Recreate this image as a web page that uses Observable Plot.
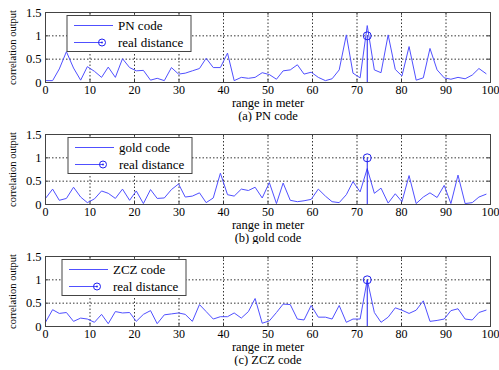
<!DOCTYPE html>
<html><head><meta charset="utf-8">
<script src="https://cdn.jsdelivr.net/npm/d3@7"></script>
<script src="https://cdn.jsdelivr.net/npm/@observablehq/plot@0.6"></script>
<style>
html,body{margin:0;padding:0;background:#fff;}
#chart{width:499px;height:370px;overflow:hidden;background:#fff;}
#chart svg{display:block;}
#chart svg text{font-family:"Liberation Serif", serif !important;}
</style></head><body><div id="chart"></div>
<script>
// range in meter (sample positions)
const rangeM = [0,1.6,3.1,4.7,6.3,7.9,9.4,11,12.6,14.1,15.7,17.3,18.9,20.4,22,23.6,25.1,26.7,28.3,29.9,31.4,33,34.6,36.1,37.7,39.3,40.9,42.4,44,45.6,47.1,48.7,50.3,51.9,53.4,55,56.6,58.1,59.7,61.3,62.9,64.4,66,67.6,69.1,70.7,72.3,73.9,75.4,77,78.6,80.1,81.7,83.3,84.9,86.4,88,89.6,91.1,92.7,94.3,95.9,97.4,99];
const pnCode = [0.04,0.04,0.29,0.66,0.31,0.05,0.34,0.24,0.11,0.33,0.11,0.51,0.32,0.25,0.26,0.05,0.09,0.04,0.32,0.18,0.2,0.25,0.3,0.52,0.32,0.32,0.63,0.04,0.11,0.09,0.11,0.21,0.17,0.07,0.25,0.27,0.38,0.18,0.22,0.11,0.04,0.08,0.27,1.02,0.2,0.1,1.22,0.27,0.21,1.02,0.28,0.14,0.77,0.05,0.1,0.73,0.27,0.1,0.07,0.11,0.08,0.16,0.3,0.19];
const goldCode = [0.13,0.33,0.09,0.13,0.37,0.16,0.04,0.12,0.29,0.24,0.13,0.33,0.09,0.29,0.02,0.32,0.13,0.14,0.32,0.44,0.16,0.18,0.25,0.04,0.14,0.67,0.21,0.18,0.33,0.3,0.37,0.14,0.47,0.02,0.46,0.09,0.06,0.08,0.11,0.33,0.18,0.06,0.04,0.21,0.49,0.27,0.77,0.24,0.35,0.03,0.23,0.06,0.62,0.02,0.16,0.25,0.15,0.41,0.02,0.63,0.02,0.04,0.16,0.22];
const zczCode = [0.09,0.36,0.28,0.3,0.11,0.18,0.16,0.09,0.26,0.06,0.32,0.29,0.3,0.11,0.26,0.34,0.06,0.25,0.27,0.29,0.26,0.11,0.47,0.32,0.16,0.21,0.21,0.29,0.18,0.32,0.6,0.07,0.12,0.3,0.48,0.47,0.16,0.14,0.45,0.2,0.2,0.16,0.45,0.09,0.16,0.16,1.0,0.3,0.09,0.2,0.4,0.35,0.28,0.35,0.55,0.11,0.13,0.16,0.34,0.38,0.16,0.14,0.3,0.35];
const realDistance = 72.3;
const realPeak = 1;
const xTicks = [0,10,20,30,40,50,60,70,80,90,100];
const yTicks = [0,0.5,1,1.5];
const seriesNames = ["PN code","gold code","ZCZ code"];
const captions = ["(a) PN code","(b) gold code","(c) ZCZ code"];
const seriesValues = [pnCode, goldCode, zczCode];
const realLabel = "real distance";
const xLabel = "range in meter";
const yLabel = "correlation output";

// layout / style
const legendLeft = [67, 68, 62];
const lineBlue = "#5050ff";
const stemBlue = "#1f1ff0";
const font = "Liberation Serif, serif";

const root = document.getElementById("chart");
seriesValues.forEach((vals, k) => {
  const data = rangeM.map((x, i) => ({x, y: vals[i]}));
  const svg = Plot.plot({
    width: 499, height: 122,
    marginLeft: 45, marginRight: 9, marginTop: 12, marginBottom: 40,
    style: {fontFamily: font, fontSize: "12px", background: "#fff", color: "#000"},
    x: {domain: [0, 100], axis: null},
    y: {domain: [0, 1.5], axis: null},
    marks: [
      Plot.ruleX(xTicks.slice(1, -1), {stroke: "#000", strokeDasharray: "1.5,2", strokeWidth: 0.8}),
      Plot.ruleY(yTicks.slice(1, -1), {stroke: "#000", strokeDasharray: "1.5,2", strokeWidth: 0.8}),
      Plot.ruleX(xTicks, {y1: 0, y2: 0.06, stroke: "#333"}),
      Plot.ruleX(xTicks, {y1: 1.44, y2: 1.5, stroke: "#333"}),
      Plot.ruleY(yTicks, {x1: 0, x2: 0.7, stroke: "#333"}),
      Plot.ruleY(yTicks, {x1: 99.3, x2: 100, stroke: "#333"}),
      Plot.line(data, {x: "x", y: "y", stroke: lineBlue, strokeWidth: 1}),
      Plot.ruleX([realDistance], {y1: 0, y2: realPeak, stroke: stemBlue, strokeWidth: 1}),
      Plot.dot([realDistance], {x: d => d, y: () => realPeak, r: 4, stroke: stemBlue, fill: "none", strokeWidth: 1}),
      Plot.frame({stroke: "#444"}),
      Plot.axisX(xTicks, {tickSize: 0, tickPadding: 3, tickFormat: d => String(d), fontSize: 12, fontFamily: font, label: null}),
      Plot.axisY(yTicks, {tickSize: 0, tickPadding: 4, tickFormat: d => String(d), fontSize: 12.5, fontFamily: font, label: null}),
      Plot.text([xLabel], {text: d => d, frameAnchor: "bottom", dy: 24, fontSize: 12.5, fontFamily: font}),
      Plot.text([captions[k]], {text: d => d, frameAnchor: "bottom", dy: 37, fontSize: 12.5, fontFamily: font}),
      Plot.text([yLabel], {text: d => d, frameAnchor: "left", textAnchor: "middle", dx: -33, rotate: -90, fontSize: 10.5, fontFamily: font})
    ]
  });
  // legend
  const g = d3.select(svg).append("g").attr("transform", `translate(${legendLeft[k]},15.5)`)
    .style("font-family", font).style("font-size", "13px");
  g.append("rect").attr("width", 124).attr("height", 36).style("fill", "#fff").style("stroke", "#444");
  g.append("line").attr("x1", 7).attr("x2", 46).attr("y1", 10).attr("y2", 10).style("stroke", lineBlue).style("stroke-width", 1);
  g.append("text").attr("x", 51).attr("y", 10).attr("dy", "0.35em").style("text-anchor", "start").text(seriesNames[k]);
  g.append("line").attr("x1", 7).attr("x2", 35).attr("y1", 27).attr("y2", 27).style("stroke", lineBlue).style("stroke-width", 1);
  g.append("circle").attr("cx", 35).attr("cy", 27).attr("r", 3.5).style("fill", "none").style("stroke", stemBlue);
  g.append("circle").attr("cx", 35).attr("cy", 27).attr("r", 0.9).style("fill", stemBlue);
  g.append("text").attr("x", 51).attr("y", 27).attr("dy", "0.35em").style("text-anchor", "start").text(realLabel);
  root.appendChild(svg);
});
</script>
</body></html>
